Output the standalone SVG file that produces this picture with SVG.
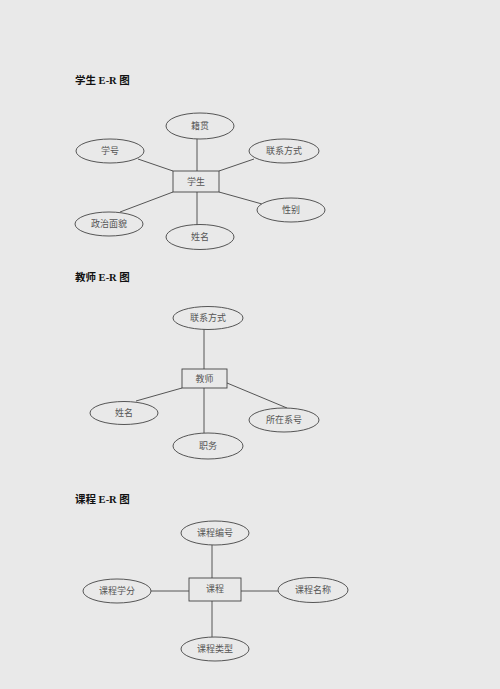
<svg xmlns="http://www.w3.org/2000/svg" width="500" height="689" viewBox="0 0 500 689">
<style>
.bg{fill:#e9e9e9}
.attr ellipse{fill:#e9e9e9;stroke:#444;stroke-width:0.9}
.ent rect{fill:#e9e9e9;stroke:#444;stroke-width:0.9}
text{font-family:"Liberation Serif","Noto Sans CJK SC",serif;font-size:9px;fill:#555;text-anchor:middle;dominant-baseline:central}
.title{font-size:10.5px;font-weight:bold;fill:#111;text-anchor:start;dominant-baseline:auto}
.conn line{stroke:#444;stroke-width:0.9}
</style>
<rect class="bg" x="0" y="0" width="500" height="689"/>

<text class="title" x="75" y="84">学生 E-R 图</text>
<text class="title" x="75" y="281">教师 E-R 图</text>
<text class="title" x="75" y="503">课程 E-R 图</text>

<g id="connectors" class="conn">
  <!-- student -->
  <line x1="197" y1="139" x2="197" y2="171"/>
  <line x1="138" y1="159" x2="173" y2="171"/>
  <line x1="254" y1="159" x2="219" y2="171"/>
  <line x1="219" y1="192" x2="262" y2="204"/>
  <line x1="173" y1="192" x2="120" y2="212"/>
  <line x1="197" y1="192" x2="197" y2="225"/>
  <!-- teacher -->
  <line x1="204" y1="329" x2="204" y2="370"/>
  <line x1="204" y1="388" x2="204" y2="433"/>
  <line x1="182" y1="388" x2="136" y2="401"/>
  <line x1="227" y1="383" x2="287" y2="408"/>
  <!-- course -->
  <line x1="212" y1="545" x2="212" y2="578"/>
  <line x1="212" y1="601" x2="212" y2="637"/>
  <line x1="151" y1="591" x2="189" y2="591"/>
  <line x1="241" y1="591" x2="279" y2="591"/>
</g>

<!-- student -->
<g id="student" class="ent"><rect x="173" y="171" width="46" height="21"/><text x="196" y="181.5">学生</text></g>
<g id="s_jiguan" class="attr"><ellipse cx="200" cy="126" rx="34" ry="13"/><text x="200" y="126">籍贯</text></g>
<g id="s_xuehao" class="attr"><ellipse cx="110" cy="151" rx="34" ry="12"/><text x="110" y="151">学号</text></g>
<g id="s_lianxi" class="attr"><ellipse cx="284" cy="151" rx="35" ry="12"/><text x="284" y="151">联系方式</text></g>
<g id="s_xingbie" class="attr"><ellipse cx="291" cy="210" rx="34" ry="12"/><text x="291" y="210">性别</text></g>
<g id="s_zhengzhi" class="attr"><ellipse cx="109" cy="224" rx="34" ry="12"/><text x="109" y="224">政治面貌</text></g>
<g id="s_xingming" class="attr"><ellipse cx="200" cy="237" rx="34" ry="12.5"/><text x="200" y="237">姓名</text></g>

<!-- teacher -->
<g id="teacher" class="ent"><rect x="182" y="369" width="45" height="19"/><text x="204.5" y="378.5">教师</text></g>
<g id="t_lianxi" class="attr"><ellipse cx="208" cy="318" rx="35" ry="11.5"/><text x="208" y="318">联系方式</text></g>
<g id="t_xingming" class="attr"><ellipse cx="124" cy="413" rx="34" ry="11.5"/><text x="124" y="413">姓名</text></g>
<g id="t_xihao" class="attr"><ellipse cx="284" cy="420" rx="35" ry="12"/><text x="284" y="420">所在系号</text></g>
<g id="t_zhiwu" class="attr"><ellipse cx="208" cy="446" rx="35" ry="13"/><text x="208" y="446">职务</text></g>

<!-- course -->
<g id="course" class="ent"><rect x="189" y="578" width="52" height="23"/><text x="215" y="589">课程</text></g>
<g id="c_bianhao" class="attr"><ellipse cx="215" cy="533" rx="34" ry="12"/><text x="215" y="533">课程编号</text></g>
<g id="c_xuefen" class="attr"><ellipse cx="117" cy="591" rx="34" ry="12"/><text x="117" y="591">课程学分</text></g>
<g id="c_mingcheng" class="attr"><ellipse cx="313" cy="590" rx="35" ry="12.5"/><text x="313" y="590">课程名称</text></g>
<g id="c_leixing" class="attr"><ellipse cx="215" cy="649" rx="34" ry="12"/><text x="215" y="649">课程类型</text></g>
</svg>
